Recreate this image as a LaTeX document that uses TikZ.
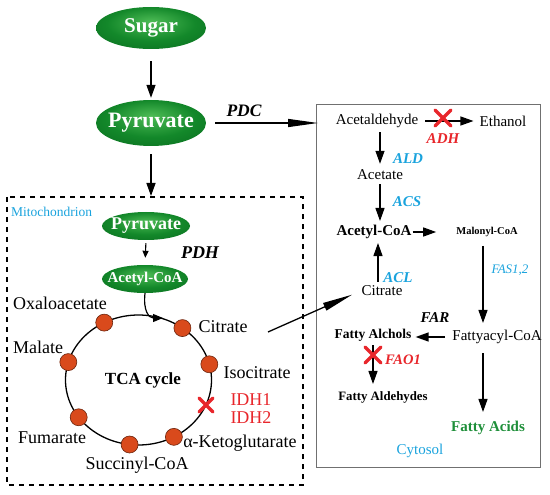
\documentclass[tikz,border=0pt]{standalone}
\usepackage{fontspec}
\setmainfont{Liberation Serif}
\usepackage{tikz}
\usetikzlibrary{positioning, arrows.meta, calc, shapes.geometric}
\definecolor{CellGreenLight}{HTML}{4DBB55}
\definecolor{CellGreenMid}{HTML}{13882A}
\definecolor{CellGreenDark}{HTML}{05601A}
\definecolor{EnzBlue}{HTML}{1AA3DD}
\definecolor{KoRed}{HTML}{E8262B}
\definecolor{DotRed}{HTML}{D94A1C}
\definecolor{AcidGreen}{HTML}{1F8F3A}
\definecolor{BoxGray}{HTML}{707070}

\pgfdeclareradialshading{blobshade}{\pgfpoint{0bp}{8bp}}{%
  color(0bp)=(CellGreenLight); color(20bp)=(CellGreenMid);
  color(45bp)=(CellGreenDark); color(50bp)=(CellGreenDark)}

\newcommand{\fs}[1]{\fontsize{#1}{#1}\selectfont}

\begin{document}
\begin{tikzpicture}[x=1pt, y=-1pt,
  blob/.style={ellipse, shading=blobshade, text=white, inner sep=0pt,
    font=\bfseries\fs{#1}},
  met/.style={font=\fs{18}, inner sep=1pt},
  cyt/.style={font=\fs{15}, inner sep=1pt},
  enz/.style={font=\bfseries\itshape\fs{15}, text=EnzBlue, inner sep=1pt},
  dot/.style={circle, fill=DotRed, draw=DotRed!50!black, line width=0.6pt,
    minimum size=17pt, inner sep=0pt},
  arr/.style={-{Triangle[length=13pt, width=9pt]}, line width=1.3pt},
  arrL/.style={-{Triangle[length=30pt, width=8pt]}, line width=1.3pt},
  arrS/.style={-{Triangle[length=7pt, width=6pt]}, line width=1.1pt},
  knock/.pic={\draw[KoRed, line width=3.2pt, line cap=round]
    (-#1,-#1) -- (#1,#1) (-#1,#1) -- (#1,-#1);}
]
  \useasboundingbox (0,0) rectangle (550,495);

  %% Compartments
  \draw[line width=1.3pt, dash pattern=on 5pt off 5pt] (7,197) rectangle (303,485);
  \draw[BoxGray, line width=1pt] (316,105) rectangle (540,467);
  \node[font=\fs{13.5}, text=EnzBlue, anchor=west, inner sep=0pt] (mitoLbl) at (11,212) {Mitochondrion};
  \node[font=\fs{15}, text=EnzBlue] (cytLbl) at (420,451) {Cytosol};

  % free ends
  \coordinate (mitoTop) at (151,196);
  \coordinate (cytW) at (318,0);
  \coordinate (citOut) at (268,332);
  \coordinate (tca) at (138.5,380);

  %% Glycolysis
  \node[blob=21, minimum width=110pt, minimum height=42pt] (sugar) at (151,28) {Sugar};
  \node[blob=22, inner xsep=-4pt, minimum width=110pt, minimum height=46pt] (pyr) at (151,123) {Pyruvate};
  \draw[arr, shorten <=12pt, shorten >=2pt] (sugar.south) -- (pyr.north);
  \draw[arr, shorten <=8pt] (pyr.south) -- (mitoTop);
  \draw[arrL, shorten <=9pt] (pyr.east) -- (pyr.east -| cytW);
  \node[enz, text=black, font=\bfseries\itshape\fs{17.5}] (pdc) at (244,111) {PDC};

  %% Mitochondrion
  \node[blob=18, inner xsep=-5pt, minimum width=88pt, minimum height=28pt] (mPyr) at (146,226) {Pyruvate};
  \node[blob=15, inner xsep=-8pt, minimum width=86pt, minimum height=28pt] (mAcCoA) at (145,279) {Acetyl-CoA};
  \draw[arrS, shorten <=3pt, shorten >=7pt] (mPyr.south) -- (mAcCoA.north);
  \node[enz, text=black, font=\bfseries\itshape\fs{18}] (pdh) at (200,253) {PDH};

  % TCA cycle
  \draw[line width=1.3pt] (tca) ellipse [x radius=73, y radius=65];
  \foreach \a/\nm in {-118/oxa, -53/cit, -14/iso, 61/akg, 97/suc, 145/fum, 196/mal}{
    \node[dot] (d\nm) at ($(tca)+(\a:73 and 65)$) {};
  }
  \draw[arrS, line width=1.2pt, -{Triangle[length=10pt, width=8pt]}]
    (mAcCoA.south) .. controls (143,311) and (149,318) .. (163,318);
  \node[font=\bfseries\fs{17}] (tcaLbl) at (143,380) {TCA cycle};
  \node[met] (oxa) at (60,303) {Oxaloacetate};
  \node[met] (citM) at (223,327) {Citrate};
  \node[met] (iso) at (257,373) {Isocitrate};
  \node[met] (akg) at (240,443) {α-Ketoglutarate};
  \node[met] (suc) at (137,465) {Succinyl-CoA};
  \node[met] (fum) at (52,438) {Fumarate};
  \node[met] (mal) at (38,347) {Malate};
  \pic at (206,405) {knock=7};
  \node[font=\fs{18}, text=KoRed, align=left, inner sep=0pt] (idh) at (251,409) {IDH1\\IDH2};

  %% Cytosol
  \node[cyt] (acald) at (377,121) {Acetaldehyde};
  \node[cyt] (etoh) at (503,121) {Ethanol};
  \node[cyt] (acet) at (380,175) {Acetate};
  \node[cyt, font=\bfseries\fs{15}] (acCoA) at (374,232) {Acetyl-CoA};
  \node[font=\bfseries\fs{10.5}, inner sep=1pt] (malCoA) at (487,232) {Malonyl-CoA};
  \node[cyt] (citC) at (382,291) {Citrate};
  \node[font=\bfseries\fs{13.5}, inner sep=1pt] (fOH) at (373,335) {Fatty Alchols};
  \node[cyt] (facyl) at (497,337) {Fattyacyl-CoA};
  \node[font=\bfseries\fs{12.8}, inner sep=1pt] (fald) at (383,397) {Fatty Aldehydes};
  \node[font=\bfseries\fs{15}, text=AcidGreen, inner sep=1pt] (facid) at (488,428) {Fatty Acids};

  % enzymes
  \node[enz, text=KoRed] (adh) at (443,139) {ADH};
  \node[enz] (ald) at (408,159) {ALD};
  \node[enz] (acs) at (407,202) {ACS};
  \node[enz] (acl) at (398,278) {ACL};
  \node[enz, font=\itshape\fs{13}] (fas) at (510,270) {FAS1,2};
  \node[enz, text=black] (far) at (435,318) {FAR};
  \node[enz, text=KoRed, font=\bfseries\itshape\fs{14.5}] (fao) at (403,360) {FAO1};

  % reactions
  \draw[arr, shorten <=6pt, shorten >=5pt] (acald.east) -- (etoh.west);
  \pic at (443,118) {knock=8};
  \draw[arr, shorten <=3pt, shorten >=5pt] (acet.north |- acald.south) -- (acet.north);
  \draw[arr, shorten <=3pt, shorten >=3pt] (acet.south) -- (acet.south |- acCoA.north);
  \draw[arr, shorten >=19pt] (acCoA.east) -- (malCoA.west);
  \draw[arr, shorten <=3pt, shorten >=3pt] ([xshift=-4pt]citC.north) -- ([xshift=-4pt]citC.north |- acCoA.south);
  \draw[arrL, shorten >=9pt] (citOut) -- (citC.west);
  \draw[arr, shorten <=8pt, shorten >=6pt] ([xshift=-4pt]malCoA.south) -- ([xshift=-4pt]malCoA.south |- facyl.north);
  \draw[arr, shorten <=6pt, shorten >=3pt] (facyl.west) -- (facyl.west -| fOH.east);
  \draw[arr, shorten <=3pt, shorten >=6pt] (fOH.south) -- (fOH.south |- fald.north);
  \pic at (373,355) {knock=8};
  \draw[arr, shorten <=8pt, shorten >=8pt] ([xshift=-14pt]facyl.south) -- ([xshift=-14pt]facyl.south |- facid.north);

\end{tikzpicture}
\end{document}
